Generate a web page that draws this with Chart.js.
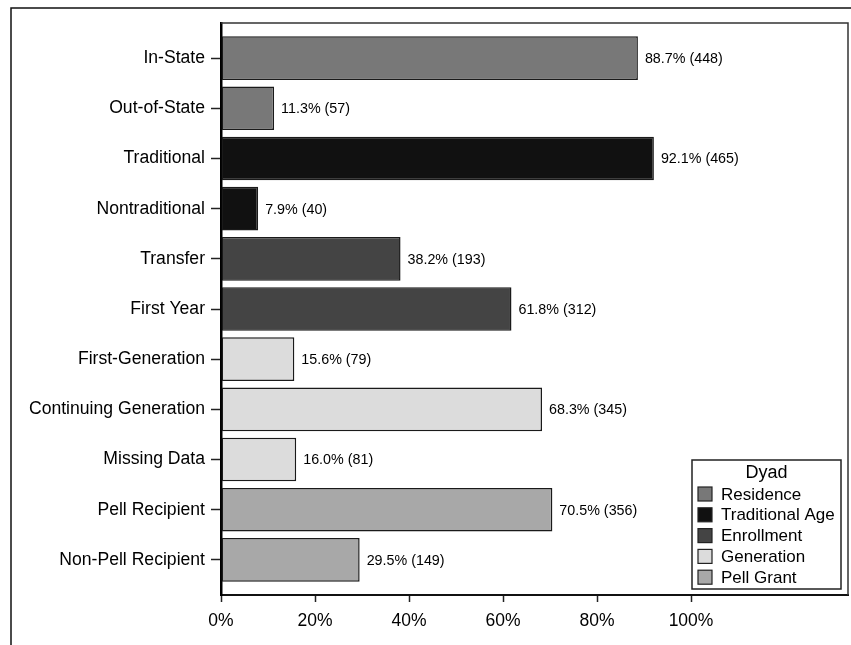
<!DOCTYPE html>
<html>
<head>
<meta charset="utf-8">
<script src="https://cdn.jsdelivr.net/npm/chart.js@4"></script>
<style>
  html, body { margin: 0; background: #fff; }
  canvas { display: block; }
</style>
</head>
<body>
<canvas id="chart" width="851" height="645"></canvas>
<script>
// Student dyads — horizontal bars, percent (count) labels, legend inside the plot.
const categories = [
  'In-State', 'Out-of-State', 'Traditional', 'Nontraditional', 'Transfer', 'First Year',
  'First-Generation', 'Continuing Generation', 'Missing Data', 'Pell Recipient', 'Non-Pell Recipient',
];
const percents = [88.7, 11.3, 92.1, 7.9, 38.2, 61.8, 15.6, 68.3, 16.0, 70.5, 29.5];
const counts = [448, 57, 465, 40, 193, 312, 79, 345, 81, 356, 149];
const dyadOf = [0, 0, 1, 1, 2, 2, 3, 3, 3, 4, 4];
const dyads = ['Residence', 'Traditional Age', 'Enrollment', 'Generation', 'Pell Grant'];
const dyadColors = ['#787878', '#111111', '#444444', '#dcdcdc', '#a8a8a8'];
const xTicks = [0, 20, 40, 60, 80, 100];

const FONT = '"Liberation Sans", Arial, sans-serif';
Chart.defaults.font.family = FONT;
Chart.defaults.color = '#000';

const datasets = dyads.map((name, d) => ({
  label: name,
  data: categories.map((_, i) => i).filter((i) => dyadOf[i] === d).map((i) => ({ x: percents[i], y: i })),
  backgroundColor: dyadColors[d],
  borderColor: '#1a1a1a',
  borderWidth: 1.5,
  borderSkipped: false,
}));

// outer frame (top + left) and the top/right edges of the plot box
const framePlugin = {
  id: 'frame',
  beforeDraw(chart) {
    const { ctx, width, height } = chart;
    ctx.save();
    ctx.fillStyle = '#fff';
    ctx.fillRect(0, 0, width, height);
    ctx.strokeStyle = '#111';
    ctx.lineWidth = 1.5;
    ctx.beginPath();
    ctx.moveTo(11, height);
    ctx.lineTo(11, 8);
    ctx.lineTo(width, 8);
    ctx.stroke();
    ctx.restore();
  },
  afterDraw(chart) {
    const { ctx, chartArea: a } = chart;
    ctx.save();
    ctx.strokeStyle = '#333';
    ctx.lineWidth = 1.5;
    ctx.beginPath();
    ctx.moveTo(a.left, a.top);
    ctx.lineTo(a.right, a.top);
    ctx.lineTo(a.right, a.bottom);
    ctx.stroke();
    ctx.restore();
  },
};

const valueLabels = {
  id: 'valueLabels',
  afterDatasetsDraw(chart) {
    const { ctx } = chart;
    ctx.save();
    ctx.font = `14.3px ${FONT}`;
    ctx.fillStyle = '#000';
    ctx.textBaseline = 'middle';
    chart.data.datasets.forEach((ds, di) => {
      chart.getDatasetMeta(di).data.forEach((bar, j) => {
        const i = ds.data[j].y;
        ctx.fillText(`${percents[i].toFixed(1)}% (${counts[i]})`, bar.x + 7, bar.y + 1);
      });
    });
    ctx.restore();
  },
};

const boxLegend = {
  id: 'boxLegend',
  afterDraw(chart) {
    const { ctx, chartArea: a } = chart;
    const w = 149, h = 129;
    const x = a.right - 7 - w, y = a.bottom - 6 - h;
    ctx.save();
    ctx.fillStyle = '#fff';
    ctx.fillRect(x, y, w, h);
    ctx.strokeStyle = '#222';
    ctx.lineWidth = 1.5;
    ctx.strokeRect(x, y, w, h);
    ctx.fillStyle = '#000';
    ctx.textBaseline = 'middle';
    ctx.textAlign = 'center';
    ctx.font = `18px ${FONT}`;
    ctx.fillText('Dyad', x + w / 2, y + 13);
    ctx.textAlign = 'left';
    ctx.font = `17px ${FONT}`;
    chart.data.datasets.forEach((ds, k) => {
      const cy = y + 34 + k * 20.8;
      ctx.fillStyle = ds.backgroundColor;
      ctx.fillRect(x + 6, cy - 7, 14, 14);
      ctx.strokeStyle = '#222';
      ctx.lineWidth = 1.2;
      ctx.strokeRect(x + 6, cy - 7, 14, 14);
      ctx.fillStyle = '#000';
      ctx.fillText(ds.label, x + 29, cy + 1);
    });
    ctx.restore();
  },
};

new Chart(document.getElementById('chart'), {
  type: 'bar',
  data: { datasets },
  options: {
    indexAxis: 'y',
    responsive: false,
    animation: false,
    grouped: false,
    categoryPercentage: 1,
    barPercentage: 0.87,
    layout: { padding: { top: 23, right: 3, left: 0, bottom: 0 } },
    plugins: { legend: { display: false }, tooltip: { enabled: false } },
    scales: {
      x: {
        type: 'linear', min: 0, max: 133.4,
        afterBuildTicks: (s) => { s.ticks = xTicks.map((v) => ({ value: v })); },
        afterFit: (s) => { s.height = 50; },
        ticks: { callback: (v) => v + '%', font: { size: 17.5 }, color: '#000', padding: 9, maxRotation: 0 },
        grid: { drawOnChartArea: false, tickLength: 7, color: '#222', tickWidth: 1.5 },
        border: { color: '#111', width: 2 },
      },
      y: {
        type: 'linear', reverse: true, min: -0.7, max: 10.7, offset: false,
        afterBuildTicks: (s) => { s.ticks = categories.map((_, i) => ({ value: i })); },
        afterFit: (s) => { s.width = 221; },
        ticks: { callback: (v) => categories[v], font: { size: 17.6 }, color: '#000', padding: 6, autoSkip: false },
        grid: { drawOnChartArea: false, offset: false, tickLength: 10, color: '#222', tickWidth: 1.5 },
        border: { color: '#000', width: 2.5 },
      },
    },
  },
  plugins: [framePlugin, valueLabels, boxLegend],
});
</script>
</body>
</html>
